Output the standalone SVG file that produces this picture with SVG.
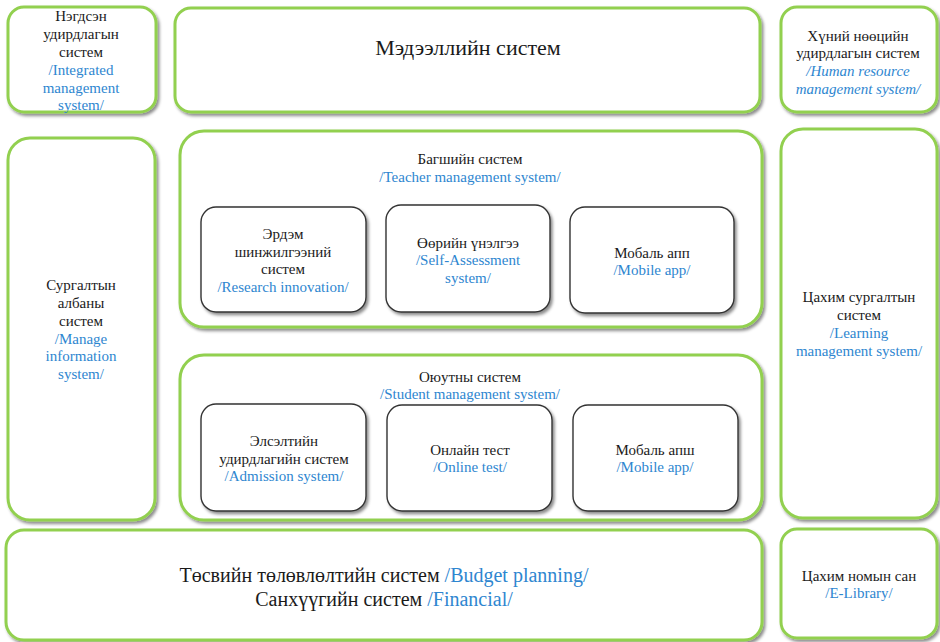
<svg xmlns="http://www.w3.org/2000/svg" width="940" height="642" viewBox="0 0 940 642">
<defs>
<filter id="sh" x="-10%" y="-10%" width="125%" height="125%">
<feDropShadow dx="2" dy="2.5" stdDeviation="1.5" flood-color="#000" flood-opacity="0.45"/>
</filter>
<style>
.g{fill:#fff;stroke:#92D050;stroke-width:3;filter:url(#sh)}
.i{fill:#fff;stroke:#333;stroke-width:1.4;filter:url(#sh)}
text{font-size:15px;text-anchor:middle;fill:#1a1a1a}
.b{fill:#2E86D0}
.it{font-style:italic}
</style>
</defs>
<rect width="940" height="642" fill="#fff"/>
<g font-family="'Liberation Serif', 'DejaVu Serif', serif">
<g id="integrated">
<rect class="g" x="8" y="7" width="148" height="105" rx="16"/>
<text x="81" y="21">Нэгдсэн</text>
<text x="81" y="39">удирдлагын</text>
<text x="81" y="57">систем</text>
<text class="b" x="81" y="75">/Integrated</text>
<text class="b" x="81" y="93">management</text>
<text class="b" x="81" y="110">system/</text>
</g>
<g id="info">
<rect class="g" x="175" y="8" width="585" height="104" rx="16"/>
<text x="468" y="55" style="font-size:22px">Мэдээллийн систем</text>
</g>
<g id="hr">
<rect class="g" x="781" y="7" width="156" height="105" rx="16"/>
<text x="858" y="41">Хүний нөөцийн</text>
<text x="858" y="58">удирдлагын систем</text>
<text class="b it" x="858" y="76">/Human resource</text>
<text class="b it" x="858" y="94">management system/</text>
</g>
<g id="mis">
<rect class="g" x="8" y="138" width="147" height="382" rx="22"/>
<text x="81" y="290">Сургалтын</text>
<text x="81" y="308">албаны</text>
<text x="81" y="326">систем</text>
<text class="b" x="81" y="344">/Manage</text>
<text class="b" x="81" y="361">information</text>
<text class="b" x="81" y="379">system/</text>
</g>
<g id="teacher">
<rect class="g" x="180" y="131" width="582" height="196" rx="24"/>
<text x="470" y="164">Багшийн систем</text>
<text class="b" x="470" y="182">/Teacher management system/</text>
</g>
<g id="research">
<rect class="i" x="201" y="207" width="165" height="105" rx="15"/>
<text x="283" y="239">Эрдэм</text>
<text x="283" y="257">шинжилгээний</text>
<text x="283" y="274">систем</text>
<text class="b" x="283" y="292">/Research innovation/</text>
</g>
<g id="self">
<rect class="i" x="386" y="205" width="164" height="107" rx="15"/>
<text x="468" y="248">Өөрийн үнэлгээ</text>
<text class="b" x="468" y="265">/Self-Assessment</text>
<text class="b" x="468" y="283">system/</text>
</g>
<g id="mobile1">
<rect class="i" x="570" y="207" width="164" height="106" rx="15"/>
<text x="652" y="258">Мобаль апп</text>
<text class="b" x="652" y="275">/Mobile app/</text>
</g>
<g id="student">
<rect class="g" x="180" y="355" width="582" height="165" rx="24"/>
<text x="470" y="382">Оюутны систем</text>
<text class="b" x="470" y="399">/Student management system/</text>
</g>
<g id="admission">
<rect class="i" x="201" y="404" width="165" height="107" rx="15"/>
<text x="284" y="446">Элсэлтийн</text>
<text x="284" y="464">удирдлагийн систем</text>
<text class="b" x="284" y="481">/Admission system/</text>
</g>
<g id="online">
<rect class="i" x="387" y="405" width="165" height="106" rx="15"/>
<text x="470" y="455">Онлайн тест</text>
<text class="b" x="470" y="472">/Online test/</text>
</g>
<g id="mobile2">
<rect class="i" x="573" y="405" width="165" height="106" rx="15"/>
<text x="655" y="455">Мобаль апш</text>
<text class="b" x="655" y="472">/Mobile app/</text>
</g>
<g id="lms">
<rect class="g" x="781" y="129" width="156" height="389" rx="22"/>
<text x="859" y="302">Цахим сургалтын</text>
<text x="859" y="320">систем</text>
<text class="b" x="859" y="338">/Learning</text>
<text class="b" x="859" y="356">management system/</text>
</g>
<g id="budget">
<rect class="g" x="6" y="530" width="756" height="110" rx="18"/>
<text x="384" y="582" style="font-size:20px">Төсвийн төлөвлөлтийн систем <tspan class="b">/Budget planning/</tspan></text>
<text x="384" y="606" style="font-size:20px">Санхүүгийн систем <tspan class="b">/Financial/</tspan></text>
</g>
<g id="elibrary">
<rect class="g" x="781" y="529" width="156" height="109" rx="16"/>
<text x="859" y="581">Цахим номын сан</text>
<text class="b" x="859" y="598">/E-Library/</text>
</g>
</g>
<g id="connectors"></g>
</svg>
